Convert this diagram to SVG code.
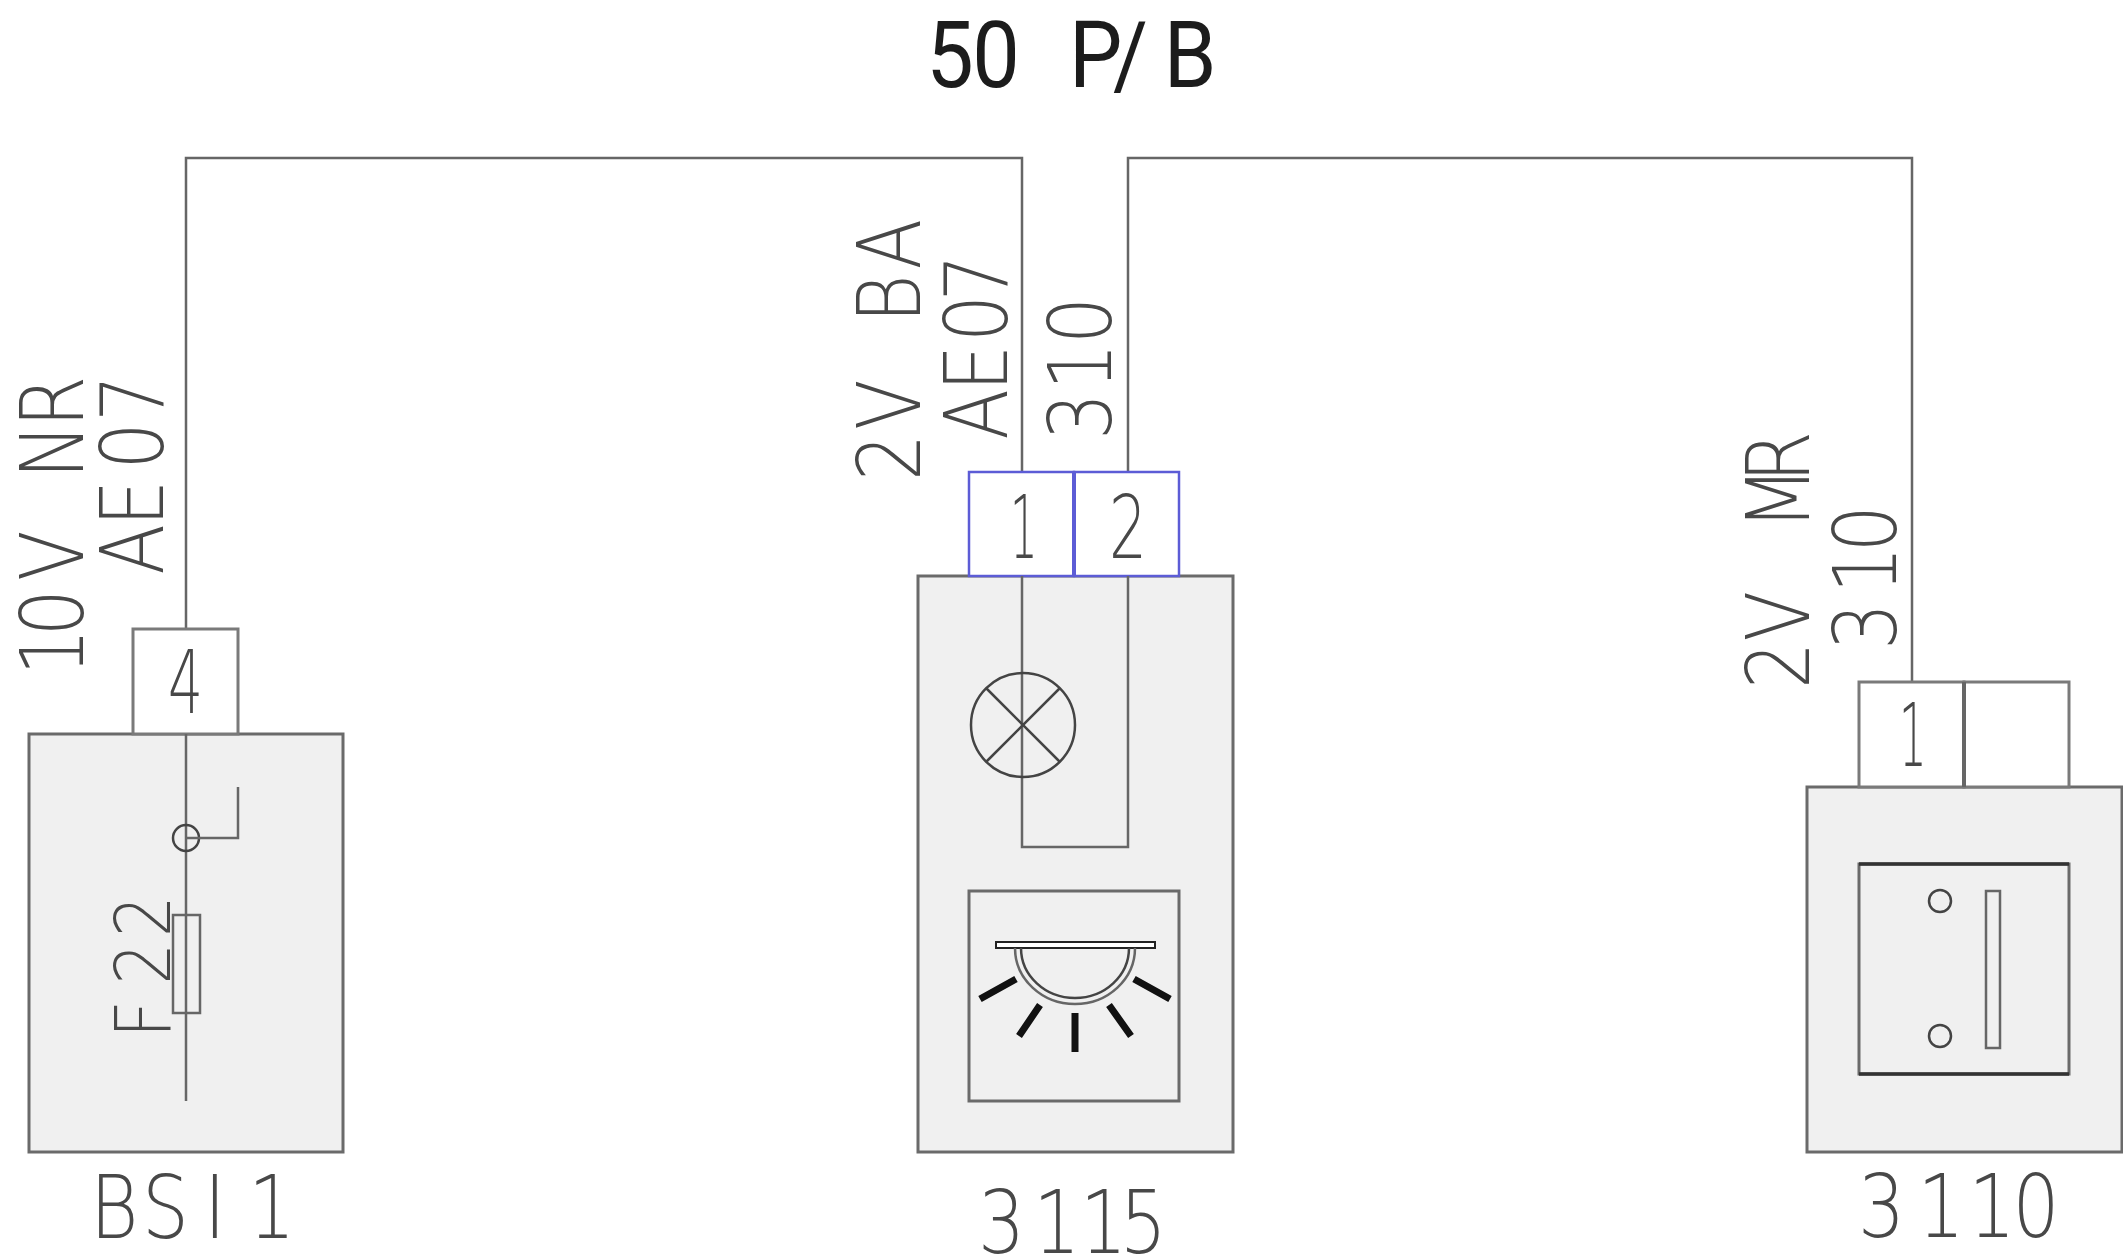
<svg xmlns="http://www.w3.org/2000/svg" width="2123" height="1260" viewBox="0 0 2123 1260">
<style>
.t{font-family:"DejaVu Sans","Liberation Sans",sans-serif;font-weight:200;font-size:87px;fill:#484848}
.title{font-family:Roboto,"Liberation Sans",sans-serif;font-weight:400;font-size:92px;fill:#1c1c1c}
.box{fill:#f0f0f0;stroke:#6a6a6a;stroke-width:3}
.pin{fill:#fff;stroke:#7a7a7a;stroke-width:3}
.bpin{fill:#fff;stroke:#5c5cd6;stroke-width:2.5}
.w{fill:none;stroke:#666;stroke-width:2.5}
.d{fill:none;stroke:#444;stroke-width:2.5}
.ray{stroke:#111;stroke-width:7;fill:none}
</style>
<rect width="2123" height="1260" fill="#fff"/>
<text class="title" transform="translate(930 87) scale(.92 1)" x="-4 46 92 151 199 254">50 P/B</text>
<g id="connectors">
<path class="w" d="M186 629V158H1022V472"/>
<path class="w" d="M1128 472V158H1912V682"/>
</g>
<g id="bsi">
<rect class="box" x="29" y="734" width="314" height="418"/>
<rect class="pin" x="133" y="629" width="105" height="105"/>
<path class="w" d="M186 734V1101"/>
<circle class="d" cx="186" cy="838" r="13"/>
<path class="w" d="M186 838H238V787"/>
<rect class="w" x="173" y="915" width="27" height="98"/>
<text class="t" x="168" y="713" textLength="35" lengthAdjust="spacingAndGlyphs">4</text>
<text class="t" transform="translate(170 1033) rotate(-90) scale(.85 1)" style="font-size:77px" x="-6 57 113">F22</text>
<text class="t" transform="translate(96 1238) scale(.85 1)" x="-7 54 127 158 179">BSI 1</text>
<text class="t" transform="translate(83 672) rotate(-90) scale(.85 1)" x="-4 42 107 176 227 288">10V NR</text>
<text class="t" transform="translate(163 574) rotate(-90) scale(.85 1)" x="-1 56 123 179">AE07</text>
</g>
<g id="n3115">
<rect class="box" x="918" y="576" width="315" height="576"/>
<rect class="bpin" x="969" y="472" width="105" height="104"/>
<rect class="bpin" x="1074" y="472" width="105" height="104"/>
<path d="M1074 472V576" stroke="#5c5cd6" stroke-width="4"/>
<path class="w" d="M1022 576V847H1128V576"/>
<circle class="d" cx="1023" cy="725" r="52"/>
<path class="d" d="M986 688L1060 762M1060 688L986 762" stroke-width="2"/>
<rect class="box" x="969" y="891" width="210" height="210"/>
<rect x="996" y="942" width="159" height="6" fill="#fff" stroke="#222" stroke-width="2"/>
<path class="w" d="M1015 948A60 56 0 0 0 1135 948"/>
<path class="d" d="M1021 948A54 50 0 0 0 1129 948"/>
<path class="ray" d="M980 999L1016 979M1019 1036L1040 1005M1075 1013V1052M1109 1005L1131 1036M1134 979L1170 999"/>
<text class="t" transform="translate(1010 558) scale(.5 1)">1</text>
<text class="t" x="1109" y="558" textLength="38" lengthAdjust="spacingAndGlyphs">2</text>
<text class="t" transform="translate(983 1253) scale(.85 1)" x="-6 59 114 161">3115</text>
<text class="t" transform="translate(920 476) rotate(-90) scale(.85 1)" x="-6 54 123 180 243">2V BA</text>
<text class="t" transform="translate(1007 439) rotate(-90) scale(.85 1)" x="-1 56 114 162">AE07</text>
<text class="t" transform="translate(1111 435) rotate(-90) scale(.85 1)" x="-6 53 107">310</text>
</g>
<g id="n3110">
<rect class="box" x="1807" y="787" width="315" height="365"/>
<rect class="pin" x="1859" y="682" width="105" height="105"/>
<rect class="pin" x="1964" y="682" width="105" height="105"/>
<path d="M1964 682V787" stroke="#666" stroke-width="4"/>
<rect class="box" x="1859" y="864" width="210" height="210"/>
<path d="M1859 864H2069M1859 1074H2069" stroke="#333" stroke-width="3.5"/>
<circle class="d" cx="1940" cy="901" r="11"/>
<circle class="d" cx="1940" cy="1036" r="11"/>
<rect class="w" x="1986" y="891" width="14" height="157"/>
<text class="t" transform="translate(1899 766) scale(.5 1)">1</text>
<text class="t" transform="translate(1863 1237) scale(.85 1)" x="-6 64 124 176">3110</text>
<text class="t" transform="translate(1809 684) rotate(-90) scale(.85 1)" x="-6 50 124 181 237">2V MR</text>
<text class="t" transform="translate(1896 645) rotate(-90) scale(.85 1)" x="-6 61 109">310</text>
</g>
</svg>
